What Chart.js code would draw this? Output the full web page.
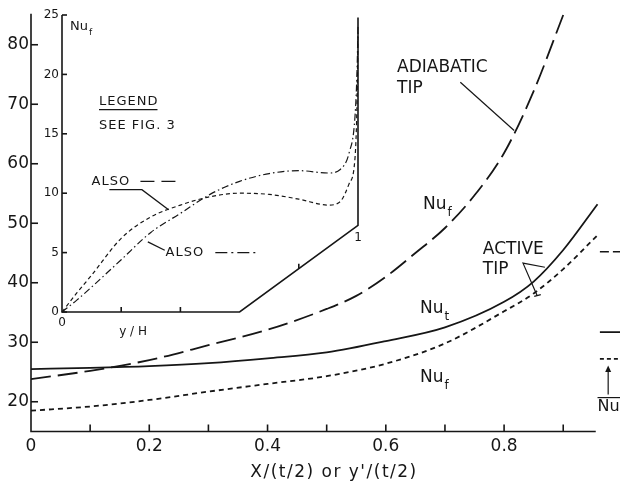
<!DOCTYPE html>
<html>
<head>
<meta charset="utf-8">
<script src="https://cdn.jsdelivr.net/npm/chart.js@4"></script>
<style>
  body { margin: 0; background: #fff; }
  #wrap { position: relative; width: 620px; height: 486px; }
  #mainChart, #insetChart { position: absolute; left: 0; top: 0; }
</style>
</head>
<body>
<div id="wrap">
  <canvas id="mainChart" width="620" height="486"></canvas>
  <canvas id="insetChart" width="380" height="340"></canvas>
</div>
<script>
// local Nusselt number along the fin, active tip and adiabatic tip
const xActive = [0, 0.1, 0.2, 0.3, 0.4, 0.5, 0.6, 0.7, 0.8, 0.85, 0.9, 0.958];
const nuTActive = [25.5, 25.7, 26.0, 26.5, 27.3, 28.3, 30.2, 32.5, 36.8, 40.2, 45.5, 53.2];
const nuFActive = [18.5, 19.2, 20.3, 21.7, 23.0, 24.3, 26.4, 29.8, 35.2, 38.2, 42.3, 48.0];
const xAdiabatic = [0, 0.1, 0.2, 0.3, 0.4, 0.5, 0.55, 0.6, 0.65, 0.7, 0.75, 0.8, 0.85, 0.9];
const nuFAdiabatic = [23.8, 25.2, 27.0, 29.5, 32.1, 35.6, 37.8, 41.0, 45.0, 49.2, 54.7, 61.8, 72.2, 85.0];
// mean values, marked at the right edge
const meanNu = [45.2, 31.7, 27.2];
const xTicks = [0, 0.2, 0.4, 0.6, 0.8];
const yTicks = [20, 30, 40, 50, 60, 70, 80];

// inset: Nu_f over the fin height
const insetX = [0, 0.05, 0.1, 0.2, 0.3, 0.4, 0.5, 0.6, 0.7, 0.8, 0.9, 0.94, 0.97, 0.99, 0.997, 1];
const nuDashed = [0, 1.6, 3.1, 6.2, 8.0, 9.0, 9.7, 10.0, 9.9, 9.5, 9.0, 9.3, 10.8, 13.0, 18.0, 23.5];
const nuDashDot = [0, 1.0, 2.1, 4.4, 6.7, 8.3, 9.9, 11.0, 11.65, 11.9, 11.7, 12.0, 13.4, 16.5, 20.5, 24.0];
const insetYTicks = [0, 5, 10, 15, 20, 25];

const ink = '#161616';
const FONT = '"DejaVu Sans", sans-serif';
const pts = (xs, ys) => xs.map((x, i) => ({ x: x, y: ys[i] }));

function curve(data, dash, width) {
  return {
    data: data,
    borderColor: ink,
    borderWidth: width,
    borderDash: dash,
    pointRadius: 0,
    fill: false,
    cubicInterpolationMode: 'monotone',
    clip: 4
  };
}

// "Nu" with a subscript
function nuText(ctx, x, y, sub, size) {
  ctx.textAlign = 'left';
  ctx.textBaseline = 'middle';
  ctx.font = size + 'px ' + FONT;
  ctx.fillText('Nu', x, y);
  const w = ctx.measureText('Nu').width;
  ctx.font = Math.round(size * 0.72) + 'px ' + FONT;
  ctx.fillText(sub, x + w + 1, y + size * 0.45);
}

function line(ctx, pts) {
  ctx.beginPath();
  ctx.moveTo(pts[0][0], pts[0][1]);
  for (let i = 1; i < pts.length; i++) ctx.lineTo(pts[i][0], pts[i][1]);
  ctx.stroke();
}

const mainFrame = {
  id: 'mainFrame',
  afterDraw(chart) {
    const { ctx, scales: { x, y } } = chart;
    const px = v => x.getPixelForValue(v);
    const py = v => y.getPixelForValue(v);
    ctx.save();
    ctx.strokeStyle = ink;
    ctx.fillStyle = ink;
    ctx.lineWidth = 1.6;
    ctx.setLineDash([]);

    // axes, only left and bottom
    line(ctx, [[px(0), py(85.2)], [px(0), py(15)], [px(0.955), py(15)]]);
    // inward ticks
    for (let v = 0.1; v < 0.95; v += 0.1) line(ctx, [[px(v), py(15)], [px(v), py(15) - 7]]);
    yTicks.forEach(v => line(ctx, [[px(0), py(v)], [px(0) + 7, py(v)]]));

    // axis title
    ctx.font = '17px ' + FONT;
    ctx.letterSpacing = '1.5px';
    ctx.textAlign = 'center';
    ctx.textBaseline = 'middle';
    ctx.fillText("X/(t/2) or y'/(t/2)", 334, 473);
    ctx.letterSpacing = '0px';

    // curve labels
    ctx.lineWidth = 1.2;
    ctx.font = '17px ' + FONT;
    ctx.textAlign = 'left';
    ctx.fillText('ADIABATIC', px(0.619), py(76.2));
    ctx.fillText('TIP', px(0.619), py(72.6));
    line(ctx, [[px(0.726), py(73.7)], [px(0.817), py(65.6)]]);
    nuText(ctx, px(0.663), py(53.1), 'f', 17);
    nuText(ctx, px(0.658), py(35.6), 't', 17);
    nuText(ctx, px(0.658), py(24.0), 'f', 17);
    ctx.font = '17px ' + FONT;
    ctx.fillText('ACTIVE', px(0.764), py(45.6));
    ctx.fillText('TIP', px(0.764), py(42.2));
    line(ctx, [[px(0.869), py(42.6)], [px(0.832), py(43.3)], [px(0.856), py(37.8)]]);
    line(ctx, [[px(0.851), py(37.7)], [px(0.862), py(38.0)]]);

    // mean value key at the right edge
    const ax = px(0.976);
    line(ctx, [[ax, py(21.2)], [ax, py(25.4)]]);
    ctx.beginPath();
    ctx.moveTo(ax, py(26.1));
    ctx.lineTo(ax - 3, py(25.0));
    ctx.lineTo(ax + 3, py(25.0));
    ctx.closePath();
    ctx.fill();
    ctx.font = '16px ' + FONT;
    ctx.textBaseline = 'middle';
    ctx.fillText('Nu', px(0.958), py(19.2));
    line(ctx, [[px(0.958), py(20.7)], [px(0.996), py(20.7)]]);
    ctx.restore();
  }
};

const meanDash = [[9, 4], [], [4, 3]];

new Chart(document.getElementById('mainChart'), {
  type: 'line',
  data: {
    datasets: [
      curve(pts(xActive, nuTActive), [], 1.8),
      curve(pts(xActive, nuFActive), [5, 4], 1.8),
      curve(pts(xAdiabatic, nuFAdiabatic), [20, 7], 1.8)
    ].concat(meanNu.map((v, i) => curve([{ x: 0.962, y: v }, { x: 0.996, y: v }], meanDash[i], 1.6)))
  },
  options: {
    responsive: false,
    animation: false,
    events: [],
    layout: { padding: { top: 15, right: 0, left: 0, bottom: 0 } },
    plugins: { legend: { display: false }, tooltip: { enabled: false } },
    scales: {
      x: {
        type: 'linear',
        min: 0,
        max: 0.996,
        grid: { display: false, drawTicks: false },
        border: { display: false },
        afterBuildTicks: s => { s.ticks = xTicks.map(v => ({ value: v })); },
        afterFit: s => { s.height = 54.5; },
        ticks: {
          color: ink,
          padding: 5,
          maxRotation: 0,
          font: { family: FONT, size: 17 },
          callback: v => v === 0 ? '0' : v.toFixed(1)
        }
      },
      y: {
        min: 15,
        max: 85,
        grid: { display: false, drawTicks: false },
        border: { display: false },
        afterBuildTicks: s => { s.ticks = yTicks.map(v => ({ value: v })); },
        afterFit: s => { s.width = 31; },
        ticks: { color: ink, padding: 2, font: { family: FONT, size: 17 } }
      }
    }
  },
  plugins: [mainFrame]
});

const insetFrame = {
  id: 'insetFrame',
  afterDraw(chart) {
    const { ctx, scales: { x, y } } = chart;
    const px = v => x.getPixelForValue(v);
    const py = v => y.getPixelForValue(v);
    ctx.save();
    ctx.strokeStyle = ink;
    ctx.fillStyle = ink;
    ctx.setLineDash([]);
    ctx.lineWidth = 1.6;

    // fin outline: y axis, base, slanted edge and tip
    line(ctx, [[px(0), py(25)], [px(0), py(0)], [px(0.6), py(0)], [px(1), py(7.3)], [px(1), py(24.8)]]);
    insetYTicks.forEach(v => line(ctx, [[px(0), py(v)], [px(0) + 5, py(v)]]));
    [0.2, 0.4].forEach(v => line(ctx, [[px(v), py(0)], [px(v), py(0) - 5]]));
    line(ctx, [[px(0.8), py(3.65)], [px(0.8), py(3.65) - 5]]);

    ctx.font = '12px ' + FONT;
    ctx.textAlign = 'center';
    ctx.textBaseline = 'middle';
    ctx.fillText('1', px(1), py(6.2));
    ctx.fillText('y / H', px(0.24), py(-1.7));

    nuText(ctx, px(0.027), py(24.0), 'f', 13);

    ctx.font = '13px ' + FONT;
    ctx.letterSpacing = '1px';
    ctx.textAlign = 'left';
    ctx.fillText('LEGEND', px(0.125), py(17.7));
    const lw = ctx.measureText('LEGEND').width;
    ctx.lineWidth = 1.2;
    line(ctx, [[px(0.125), py(17.7) + 8], [px(0.125) + lw - 1, py(17.7) + 8]]);
    ctx.fillText('SEE FIG. 3', px(0.125), py(15.7));

    // legend keys with leaders
    ctx.fillText('ALSO', px(0.1), py(11.0));
    ctx.fillText('ALSO', px(0.35), py(5.0));
    ctx.letterSpacing = '0px';
    ctx.lineWidth = 1.3;
    line(ctx, [[px(0.16), py(10.3)], [px(0.27), py(10.3)], [px(0.36), py(8.6)]]);
    line(ctx, [[px(0.347), py(5.2)], [px(0.29), py(5.9)]]);
    ctx.setLineDash([14, 7]);
    line(ctx, [[px(0.265), py(11.0)], [px(0.39), py(11.0)]]);
    ctx.setLineDash([12, 4, 2, 4]);
    line(ctx, [[px(0.518), py(5.0)], [px(0.665), py(5.0)]]);
    ctx.restore();
  }
};

new Chart(document.getElementById('insetChart'), {
  type: 'line',
  data: {
    datasets: [
      curve(pts(insetX, nuDashed), [4, 3], 1.2),
      curve(pts(insetX, nuDashDot), [7, 3, 1.5, 3], 1.2)
    ]
  },
  options: {
    responsive: false,
    animation: false,
    events: [],
    layout: { padding: { top: 15, right: 22, left: 0, bottom: 0 } },
    plugins: { legend: { display: false }, tooltip: { enabled: false } },
    scales: {
      x: {
        type: 'linear',
        min: 0,
        max: 1,
        grid: { display: false, drawTicks: false },
        border: { display: false },
        afterBuildTicks: s => { s.ticks = [{ value: 0 }]; },
        afterFit: s => { s.height = 28; },
        ticks: { color: ink, padding: 4, font: { family: FONT, size: 12 } }
      },
      y: {
        min: 0,
        max: 25,
        grid: { display: false, drawTicks: false },
        border: { display: false },
        afterBuildTicks: s => { s.ticks = insetYTicks.map(v => ({ value: v })); },
        afterFit: s => { s.width = 62; },
        ticks: { color: ink, padding: 3, font: { family: FONT, size: 12 } }
      }
    }
  },
  plugins: [insetFrame]
});
</script>
</body>
</html>
